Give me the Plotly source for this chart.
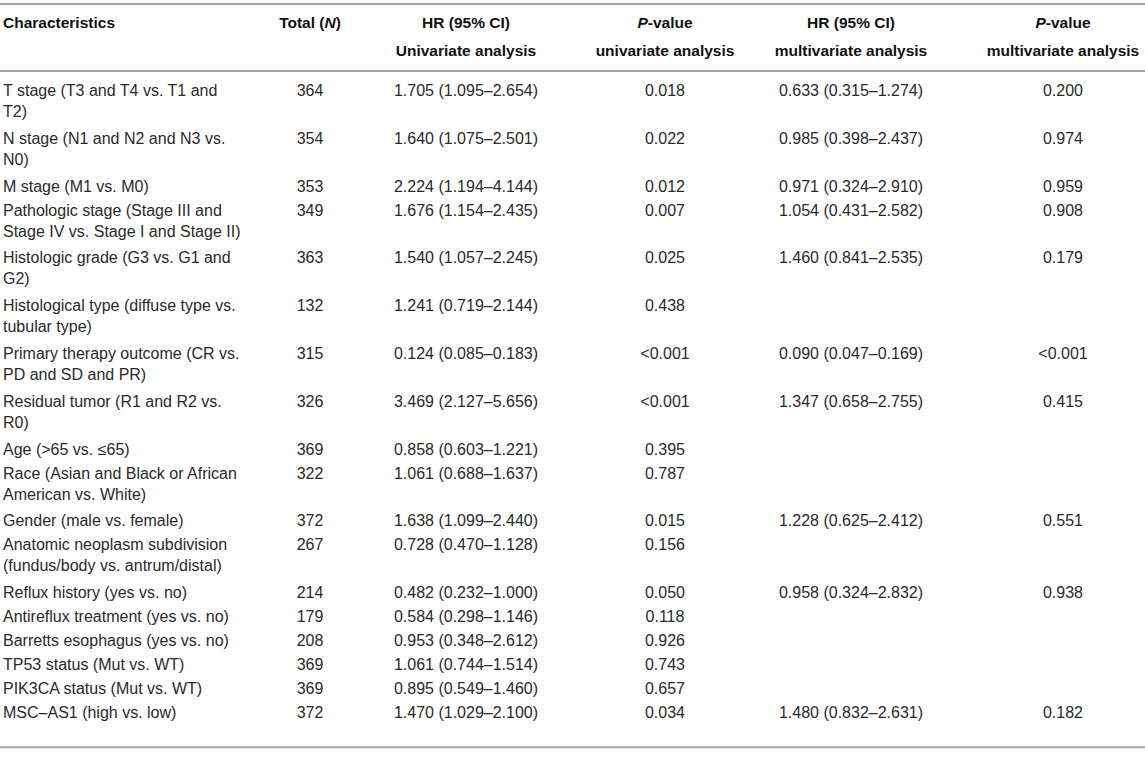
import plotly.graph_objects as go

# ---------------- data ----------------
characteristics = [
    "T stage (T3 and T4 vs. T1 and<br>T2)",
    "N stage (N1 and N2 and N3 vs.<br>N0)",
    "M stage (M1 vs. M0)",
    "Pathologic stage (Stage III and<br>Stage IV vs. Stage I and Stage II)",
    "Histologic grade (G3 vs. G1 and<br>G2)",
    "Histological type (diffuse type vs.<br>tubular type)",
    "Primary therapy outcome (CR vs.<br>PD and SD and PR)",
    "Residual tumor (R1 and R2 vs.<br>R0)",
    "Age (>65 vs. ≤65)",
    "Race (Asian and Black or African<br>American vs. White)",
    "Gender (male vs. female)",
    "Anatomic neoplasm subdivision<br>(fundus/body vs. antrum/distal)",
    "Reflux history (yes vs. no)",
    "Antireflux treatment (yes vs. no)",
    "Barretts esophagus (yes vs. no)",
    "TP53 status (Mut vs. WT)",
    "PIK3CA status (Mut vs. WT)",
    "MSC–AS1 (high vs. low)",
]
total_n = [364, 354, 353, 349, 363, 132, 315, 326, 369, 322, 372, 267, 214, 179, 208, 369, 369, 372]
hr_univariate = [
    "1.705 (1.095–2.654)", "1.640 (1.075–2.501)", "2.224 (1.194–4.144)", "1.676 (1.154–2.435)",
    "1.540 (1.057–2.245)", "1.241 (0.719–2.144)", "0.124 (0.085–0.183)", "3.469 (2.127–5.656)",
    "0.858 (0.603–1.221)", "1.061 (0.688–1.637)", "1.638 (1.099–2.440)", "0.728 (0.470–1.128)",
    "0.482 (0.232–1.000)", "0.584 (0.298–1.146)", "0.953 (0.348–2.612)", "1.061 (0.744–1.514)",
    "0.895 (0.549–1.460)", "1.470 (1.029–2.100)",
]
p_univariate = [
    "0.018", "0.022", "0.012", "0.007", "0.025", "0.438", "<0.001", "<0.001", "0.395",
    "0.787", "0.015", "0.156", "0.050", "0.118", "0.926", "0.743", "0.657", "0.034",
]
hr_multivariate = [
    "0.633 (0.315–1.274)", "0.985 (0.398–2.437)", "0.971 (0.324–2.910)", "1.054 (0.431–2.582)",
    "1.460 (0.841–2.535)", "", "0.090 (0.047–0.169)", "1.347 (0.658–2.755)", "", "",
    "1.228 (0.625–2.412)", "", "0.958 (0.324–2.832)", "", "", "", "", "1.480 (0.832–2.631)",
]
p_multivariate = [
    "0.200", "0.974", "0.959", "0.908", "0.179", "", "<0.001", "0.415", "", "",
    "0.551", "", "0.938", "", "", "", "", "0.182",
]
headers = [
    "Characteristics",
    "Total (<i>N</i>)",
    "HR (95% CI)<br>Univariate analysis",
    "<i>P</i>-value<br>univariate analysis",
    "HR (95% CI)<br>multivariate analysis",
    "<i>P</i>-value<br>multivariate analysis",
]

# ---------------- style / layout ----------------
W, H = 1145, 760
FONT = "Liberation Sans, Arial, Helvetica, sans-serif"
FS = 16
HFS = 15.5
BODY_COLOR = "#2a2a2a"
HEAD_COLOR = "#111111"
RULE_COLOR = "#a5a5a5"

col_x = [3, 310, 466, 665, 851, 1063]
TOP_RULE = 4
HEAD_LINE1 = 24
HEAD_LINE_GAP = 28.5
HEAD_RULE = 71
FIRST_LINE = 92
ROW_SINGLE = 24
ROW_EXTRA_LINE = 23.8
CELL_LINE = 21
BOTTOM_GAP = 33


def esc(s):
    return str(s).replace("<0", "&lt;0").replace(">6", "&gt;6")


columns = [characteristics, total_n, hr_univariate, p_univariate, hr_multivariate, p_multivariate]

# line positions derived from each row's line count
row_first = []
y = FIRST_LINE
for lab in characteristics:
    row_first.append(y)
    n = len(lab.split("<br>"))
    y += ROW_SINGLE + (n - 1) * ROW_EXTRA_LINE
last_row_lines = len(characteristics[-1].split("<br>"))
bottom_rule = row_first[-1] + (last_row_lines - 1) * CELL_LINE + BOTTOM_GAP

fig = go.Figure()

for ci, col in enumerate(columns):
    xs, ys, ts = [], [], []
    for ri, val in enumerate(col):
        lines = str(val).split("<br>") if ci == 0 else [str(val)]
        for li, line in enumerate(lines):
            if line == "":
                continue
            xs.append(col_x[ci])
            ys.append(row_first[ri] + li * CELL_LINE)
            ts.append(esc(line))
    fig.add_trace(go.Scatter(
        x=xs, y=ys, text=ts, mode="text",
        textposition="middle right" if ci == 0 else "middle center",
        textfont=dict(family=FONT, size=FS, color=BODY_COLOR),
        hoverinfo="skip", showlegend=False,
    ))

# header
for ci, htxt in enumerate(headers):
    parts = htxt.split("<br>")
    xs, ys, ts = [], [], []
    for li, p in enumerate(parts):
        xs.append(col_x[ci])
        ys.append(HEAD_LINE1 + li * HEAD_LINE_GAP)
        ts.append("<b>" + p + "</b>")
    fig.add_trace(go.Scatter(
        x=xs, y=ys, text=ts, mode="text",
        textposition="middle right" if ci == 0 else "middle center",
        textfont=dict(family=FONT, size=HFS, color=HEAD_COLOR),
        hoverinfo="skip", showlegend=False,
    ))

for yr in [TOP_RULE, HEAD_RULE, bottom_rule]:
    fig.add_shape(type="line", xref="paper", x0=0, x1=1, yref="y", y0=yr, y1=yr,
                  line=dict(color=RULE_COLOR, width=2))

fig.update_layout(
    width=W, height=H,
    margin=dict(l=0, r=0, t=0, b=0),
    paper_bgcolor="white", plot_bgcolor="white",
    xaxis=dict(range=[0, W], visible=False, fixedrange=True),
    yaxis=dict(range=[H, 0], visible=False, fixedrange=True),
    showlegend=False,
)

fig.write_html("out.html", config={"displayModeBar": False},
               post_script="document.body.style.margin='0';")
